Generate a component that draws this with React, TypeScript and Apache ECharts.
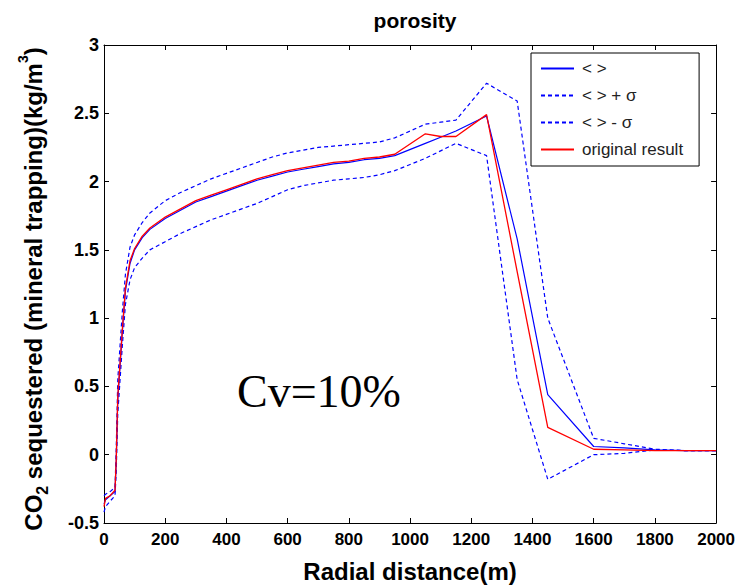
import React, { useEffect, useRef } from "react";
import * as echarts from "echarts";

const distance = [0, 5, 20, 36, 40, 45, 60, 70, 85, 100, 125, 150, 200, 250, 300, 350, 400, 450, 500, 550, 600, 650, 700, 750, 800, 850, 900, 950, 1050, 1100, 1150, 1250, 1350, 1450, 1600, 1700, 1800, 1900, 2000];

const meanValues = [-0.36, -0.33, -0.30, -0.27, -0.05, 0.40, 0.90, 1.20, 1.40, 1.50, 1.59, 1.65, 1.73, 1.79, 1.85, 1.89, 1.93, 1.97, 2.01, 2.04, 2.07, 2.09, 2.11, 2.13, 2.14, 2.16, 2.17, 2.19, 2.28, 2.325, 2.37, 2.48, 1.58, 0.44, 0.06, 0.05, 0.035, 0.03, 0.03];

const upperValues = [-0.30, -0.29, -0.27, -0.24, 0.05, 0.55, 1.05, 1.32, 1.52, 1.61, 1.70, 1.77, 1.86, 1.92, 1.97, 2.02, 2.06, 2.10, 2.14, 2.18, 2.21, 2.23, 2.25, 2.26, 2.27, 2.28, 2.29, 2.32, 2.42, 2.435, 2.45, 2.72, 2.59, 1.0, 0.12, 0.08, 0.04, 0.03, 0.03];

const lowerValues = [-0.42, -0.38, -0.34, -0.30, -0.12, 0.30, 0.80, 1.10, 1.28, 1.37, 1.44, 1.50, 1.56, 1.62, 1.67, 1.72, 1.76, 1.80, 1.84, 1.89, 1.94, 1.97, 1.99, 2.01, 2.02, 2.03, 2.05, 2.08, 2.17, 2.225, 2.28, 2.19, 0.55, -0.18, 0.0, 0.01, 0.035, 0.03, 0.03];

const originalValues = [-0.38, -0.32, -0.30, -0.26, -0.03, 0.43, 0.92, 1.22, 1.42, 1.51, 1.60, 1.66, 1.74, 1.80, 1.86, 1.90, 1.94, 1.98, 2.02, 2.05, 2.08, 2.10, 2.12, 2.14, 2.15, 2.17, 2.18, 2.20, 2.35, 2.33, 2.33, 2.49, 1.34, 0.20, 0.04, 0.035, 0.03, 0.03, 0.03];

const seriesNames = ["< >", "< > + σ", "< > - σ", "original result"];
const xTicks = { min: 0, max: 2000, interval: 200 };
const yTicks = { min: -0.5, max: 3, interval: 0.5 };

const pair = (vals: number[]) => distance.map((d, i) => [d, vals[i]]);

const SANS = 'Arial, "Liberation Sans", sans-serif';

export default function App() {
  const ref = useRef<HTMLDivElement>(null);
  useEffect(() => {
    if (!ref.current) return;
    const chart = echarts.init(ref.current, undefined, { renderer: "svg" });
    const axisCommon = {
      axisLine: { show: true, onZero: false, lineStyle: { color: "#000", width: 1 } },
      axisTick: { show: true, inside: true, length: 5, lineStyle: { color: "#000" } },
      splitLine: { show: false },
    };
    const plain = (v: number) => String(v);
    chart.setOption({
      animation: false,
      backgroundColor: "#fff",
      title: {
        text: "porosity",
        left: 410,
        top: 5,
        textAlign: "center",
        textStyle: { fontFamily: SANS, fontWeight: 700, fontSize: 21, color: "#000" },
      },
      grid: { left: 104, right: 20, top: 45, bottom: 60 },
      legend: {
        data: seriesNames,
        orient: "vertical",
        left: 531,
        top: 53,
        itemWidth: 33,
        itemHeight: 14,
        itemGap: 10,
        padding: [7, 16, 8, 9],
        borderColor: "#000",
        borderWidth: 1,
        backgroundColor: "#fff",
        itemStyle: { opacity: 0 },
        textStyle: { fontFamily: SANS, fontSize: 17, color: "#222", padding: [0, 0, 0, 3] },
      },
      xAxis: [
        {
          type: "value",
          ...xTicks,
          position: "bottom",
          ...axisCommon,
          axisLabel: { color: "#000", fontFamily: SANS, fontWeight: 700, fontSize: 17, margin: 8, formatter: plain },
          name: "Radial distance(m)",
          nameLocation: "middle",
          nameGap: 36,
          nameTextStyle: { fontFamily: SANS, fontWeight: 700, fontSize: 24, color: "#000" },
        },
        {
          type: "value",
          ...xTicks,
          position: "top",
          ...axisCommon,
          axisLabel: { show: false },
        },
      ],
      yAxis: [
        {
          type: "value",
          ...yTicks,
          position: "left",
          ...axisCommon,
          axisLabel: { color: "#000", fontFamily: SANS, fontWeight: 700, fontSize: 18, margin: 5, formatter: plain },
        },
        {
          type: "value",
          ...yTicks,
          position: "right",
          ...axisCommon,
          axisLabel: { show: false },
        },
      ],
      graphic: [
        {
          type: "text",
          x: 33,
          y: 289,
          rotation: Math.PI / 2,
          style: {
            text: "{a|CO}{sub|2}{a| sequestered (mineral trapping)(kg/m}{sup|3}{a|)}",
            align: "center",
            verticalAlign: "middle",
            fill: "#000",
            rich: {
              a: { fontFamily: SANS, fontWeight: 700, fontSize: 24, lineHeight: 34, verticalAlign: "middle", fill: "#000" },
              sub: { fontFamily: SANS, fontWeight: 700, fontSize: 16, lineHeight: 34, verticalAlign: "bottom", fill: "#000" },
              sup: { fontFamily: SANS, fontWeight: 700, fontSize: 14, lineHeight: 34, verticalAlign: "top", fill: "#000" },
            },
          },
        },
        {
          type: "text",
          x: 237,
          y: 391,
          style: {
            text: "Cv=10%",
            fontFamily: '"Times New Roman", "Liberation Serif", serif',
            fontSize: 46,
            fill: "#000",
            align: "left",
            verticalAlign: "middle",
          },
        },
      ],
      series: [
        {
          name: seriesNames[0],
          type: "line",
          data: pair(meanValues),
          symbol: "none",
          lineStyle: { color: "#0000ff", width: 1.2, type: "solid" },
          itemStyle: { color: "#0000ff" },
        },
        {
          name: seriesNames[1],
          type: "line",
          data: pair(upperValues),
          symbol: "none",
          lineStyle: { color: "#0000ff", width: 1.2, type: [4, 3] },
          itemStyle: { color: "#0000ff" },
        },
        {
          name: seriesNames[2],
          type: "line",
          data: pair(lowerValues),
          symbol: "none",
          lineStyle: { color: "#0000ff", width: 1.2, type: [4, 3] },
          itemStyle: { color: "#0000ff" },
        },
        {
          name: seriesNames[3],
          type: "line",
          data: pair(originalValues),
          symbol: "none",
          lineStyle: { color: "#ff0000", width: 1.3, type: "solid" },
          itemStyle: { color: "#ff0000" },
        },
      ],
    });
    return () => chart.dispose();
  }, []);
  return <div ref={ref} style={{ position: "fixed", left: 0, top: 0, width: 738, height: 588 }} />;
}
